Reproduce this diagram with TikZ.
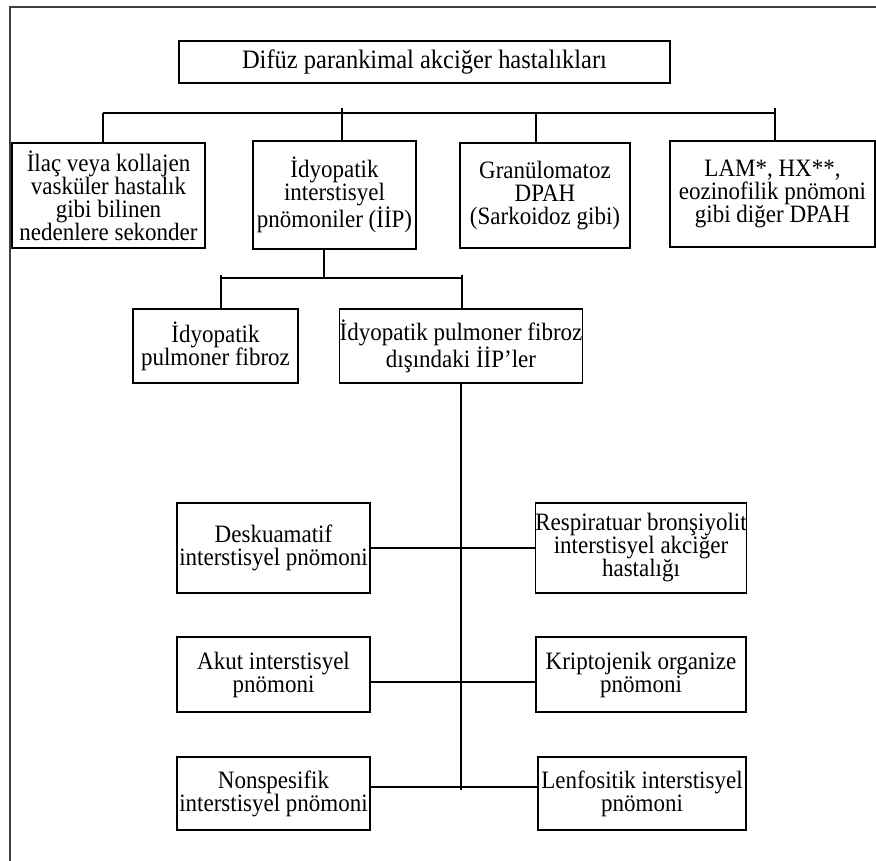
\documentclass[tikz,border=0pt]{standalone}
\usepackage{fontspec}
\setmainfont{Liberation Serif}[FakeStretch=0.92]
\usepackage{tikz}
\usetikzlibrary{arrows}
\tikzset{
    tnode/.style = {align=center, inner sep=0pt, text centered, font=\fontsize{25}{23}\selectfont},
    box/.style = {tnode, rectangle, draw=black, line width=1.4pt},
    top_box/.style = {box, minimum height=105pt},
    mid_box/.style = {box, minimum height=74pt},
    low_box/.style = {box, minimum width=193pt}
}

\begin{document}
\begin{tikzpicture}
            [-,>=stealth', x=1pt, y=-1pt, line width=1.4pt]

            \useasboundingbox (0,0) rectangle (876,861);
            \draw [black!75, line width=1.8pt] (10,861) -- (10,7) -- (876,7);

            % title
            \node [box, minimum width=491pt, minimum height=42pt, font=\fontsize{26.6}{23}\selectfont] (title) at (424.5,62)
                {Difüz parankimal akciğer hastalıkları};

            % second row
            \node [top_box, minimum width=193pt] (ilac) at (108.5,195.5)
                {İlaç veya kollajen\\vasküler hastalık\\gibi bilinen\\nedenlere sekonder};
            \node [top_box, minimum width=163pt, minimum height=108pt] (idyo) at (334.5,195)
                {İdyopatik\\interstisyel\\pnömoniler (İİP)};
            \node [top_box, minimum width=170pt] (granul) at (545,195.5)
                {Granülomatoz\\DPAH\\(Sarkoidoz gibi)};
            \node [top_box, minimum width=205pt, minimum height=106pt] (lam) at (772.5,194)
                {LAM*, HX**,\\eozinofilik pnömoni\\gibi diğer DPAH};

            % third row
            \node [mid_box, minimum width=165pt] (ipf) at (215.5,346)
                {İdyopatik\\pulmoner fibroz};
            \node [mid_box, minimum width=240pt] (disin) at (461,346)
                {İdyopatik pulmoner fibroz\\dışındaki İİP’ler};

            % lower rows
            \node [low_box, minimum height=90pt] (desk) at (273.5,548)
                {Deskuamatif\\interstisyel pnömoni};
            \node [box, minimum width=210pt, minimum height=90pt] (resp) at (641,548)
                {Respiratuar bronşiyolit\\interstisyel akciğer\\hastalığı};
            \node [low_box, minimum height=75pt] (akut) at (273.5,674.5)
                {Akut interstisyel\\pnömoni};
            \node [box, minimum width=210pt, minimum height=75pt] (kript) at (641,674.5)
                {Kriptojenik organize\\pnömoni};
            \node [low_box, minimum height=73pt] (nons) at (273.5,793.5)
                {Nonspesifik\\interstisyel pnömoni};
            \node [box, minimum width=208pt, minimum height=73pt] (lenf) at (642,793.5)
                {Lenfositik interstisyel\\pnömoni};

            % upper bus
            \coordinate (top_a) at (103,113);
            \coordinate (top_b) at (342,108);
            \coordinate (top_c) at (536,113);
            \coordinate (top_d) at (775,108);
            \draw (top_a) -- (top_a -| top_d);
            \foreach \n/\b in {top_a/ilac, top_b/idyo, top_c/granul, top_d/lam}
                \draw (\n) -- (\n |- \b.north);

            % lower bus
            \coordinate (mid_s) at (324,278);
            \coordinate (mid_a) at (221,275);
            \coordinate (mid_b) at (462,275);
            \draw (mid_s |- idyo.south) -- (mid_s);
            \draw (mid_a |- mid_s) -- (mid_b |- mid_s);
            \draw (mid_a) -- (mid_a |- ipf.north);
            \draw (mid_b) -- (mid_b |- disin.north);

            % spine
            \coordinate (tail) at (461,790);
            \draw (disin.south) -- (tail);
            \draw (desk.east) -- (resp.west);
            \draw ([yshift=-7.5pt]akut.east) -- ([yshift=-7.5pt]kript.west);
            \draw ([yshift=6.5pt]nons.east) -- ([yshift=6.5pt]lenf.west);
        \end{tikzpicture}
\end{document}
